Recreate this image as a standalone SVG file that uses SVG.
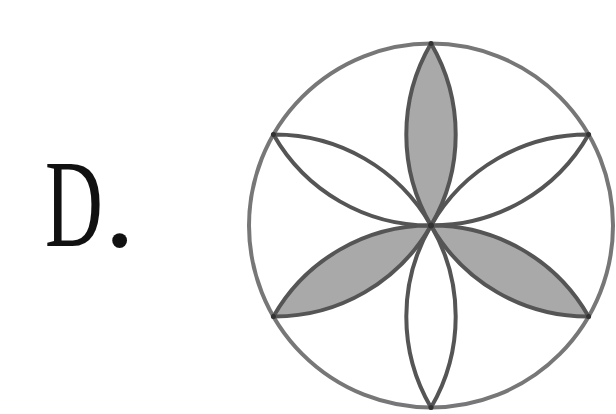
<svg xmlns="http://www.w3.org/2000/svg" width="616" height="414" viewBox="0 0 616 414">
<style>
.petal{stroke:#555;stroke-width:4;stroke-linejoin:round}
.shade{fill:#a9a9a9}
.blank{fill:none}
.dot{fill:#333}
.lbl{font-family:"Liberation Serif",serif;font-size:125px;fill:#111}
</style>
<rect width="616" height="414" fill="#fff"/>
<text class="lbl" transform="translate(45,246) scale(0.64,1)">D</text>
<text class="lbl" x="104" y="246">.</text>
<g id="outer">
<circle cx="431" cy="225.5" r="182" fill="none" stroke="#777" stroke-width="4"/>
</g>
<g id="petals">
<path id="p-top" class="petal shade" d="M431 225.5 A180 180 0 0 1 431 43.5 A180 180 0 0 1 431 225.5 Z"/>
<path id="p-ur" class="petal blank" d="M431 225.5 A180 180 0 0 1 588.6 134.5 A180 180 0 0 1 431 225.5 Z"/>
<path id="p-lr" class="petal shade" d="M431 225.5 A180 180 0 0 1 588.6 316.5 A180 180 0 0 1 431 225.5 Z"/>
<path id="p-bot" class="petal blank" d="M431 225.5 A180 180 0 0 1 431 407.5 A180 180 0 0 1 431 225.5 Z"/>
<path id="p-ll" class="petal shade" d="M431 225.5 A180 180 0 0 1 273.4 316.5 A180 180 0 0 1 431 225.5 Z"/>
<path id="p-ul" class="petal blank" d="M431 225.5 A180 180 0 0 1 273.4 134.5 A180 180 0 0 1 431 225.5 Z"/>
</g>
<g id="points">
<circle class="dot" cx="431" cy="225.5" r="3"/>
<circle class="dot" cx="431" cy="43.5" r="2.5"/>
<circle class="dot" cx="588.6" cy="134.5" r="2.5"/>
<circle class="dot" cx="588.6" cy="316.5" r="2.5"/>
<circle class="dot" cx="431" cy="407.5" r="2.5"/>
<circle class="dot" cx="273.4" cy="316.5" r="2.5"/>
<circle class="dot" cx="273.4" cy="134.5" r="2.5"/>
</g>
</svg>
